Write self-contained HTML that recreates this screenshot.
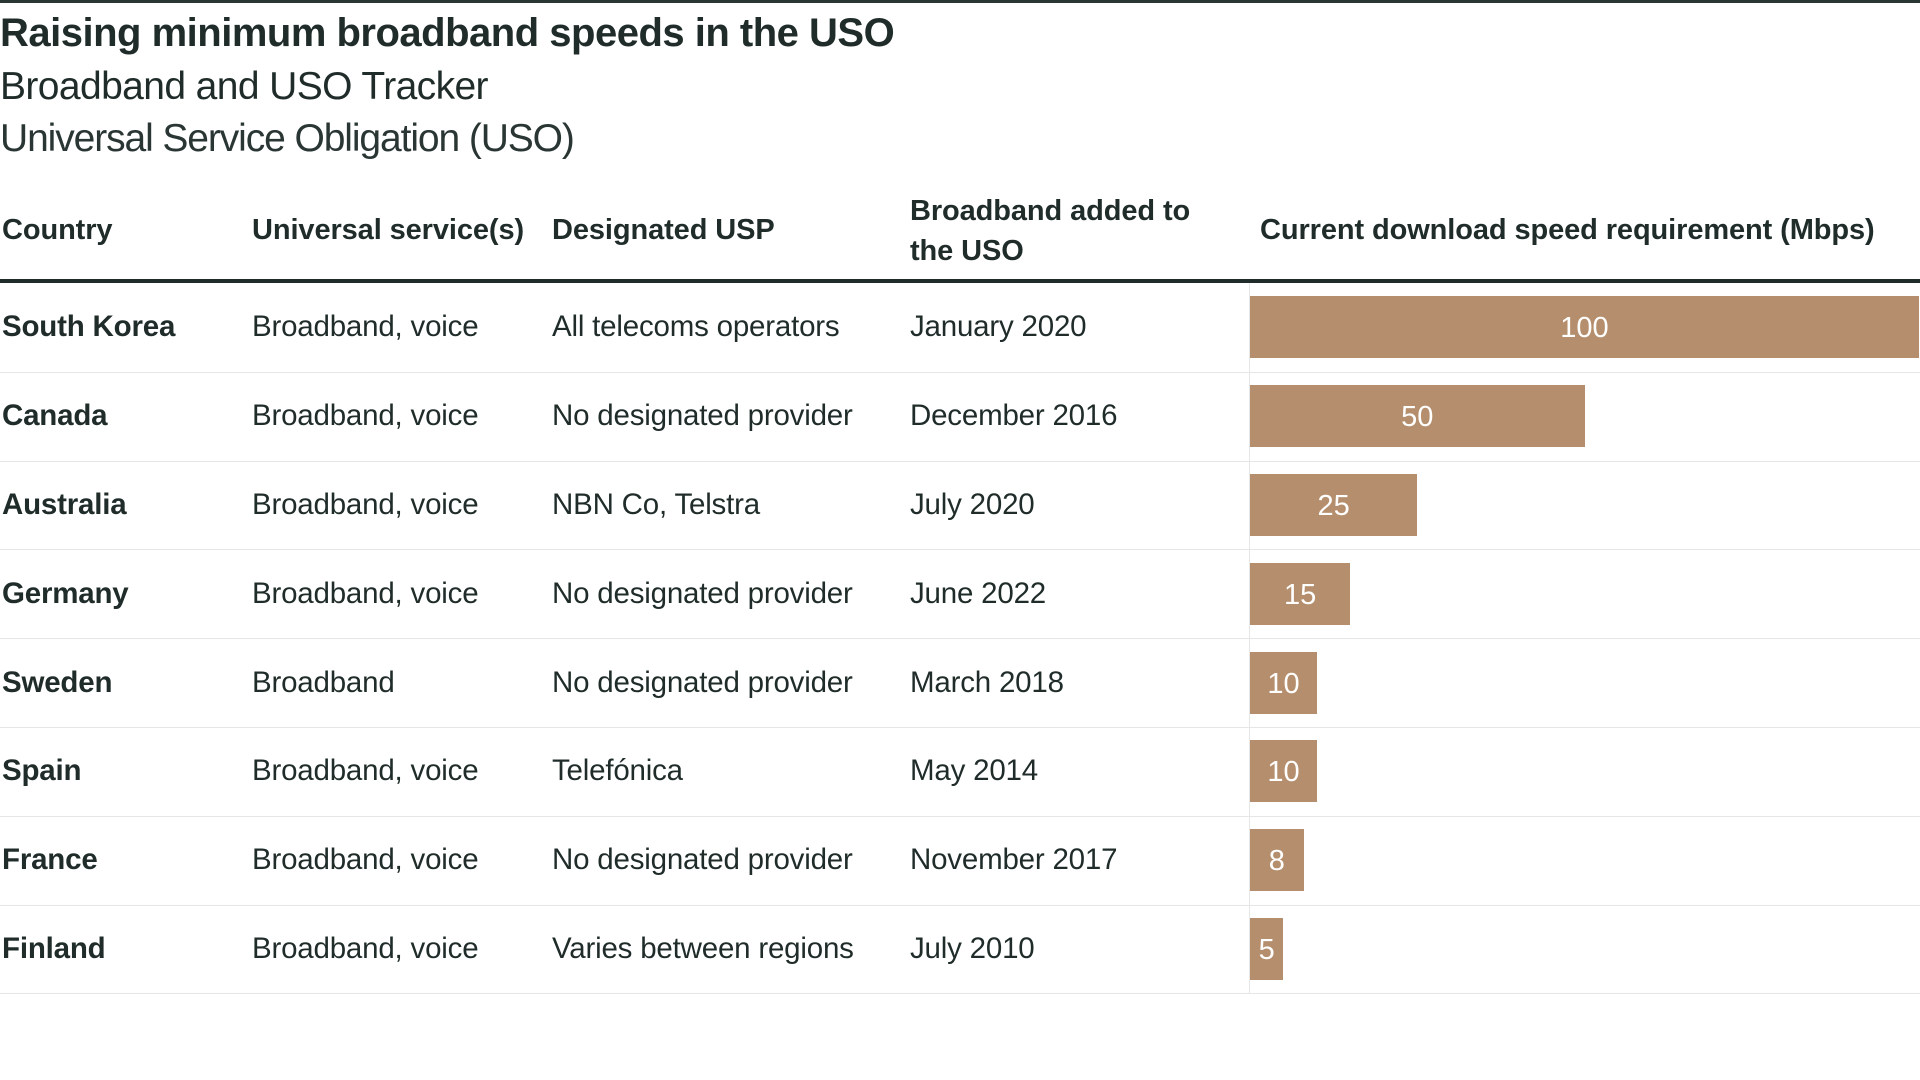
<!DOCTYPE html>
<html><head><meta charset="utf-8">
<style>
body{margin:0;width:1920px;height:1080px;background:#fff;position:relative;overflow:hidden;font-family:"Liberation Sans",sans-serif;color:#1f2c29}
.a{position:absolute;white-space:nowrap}
#topline{left:0;top:0;width:1920px;height:3px;background:#2a3633}
#title{left:0;top:11px;font-size:40px;font-weight:bold;letter-spacing:-0.5px}
#sub1{left:0;top:65px;font-size:39px;letter-spacing:-0.6px}
#sub2{left:0;top:117px;font-size:39px;letter-spacing:-1.1px;color:#2a3633}
.h{font-size:29px;font-weight:bold;letter-spacing:-0.1px}
.c{font-size:29.5px;letter-spacing:-0.2px}
.b{font-weight:bold}
.sep{position:absolute;left:0;width:1920px;height:1px;background:#e6e6e6}
.bar{position:absolute;background:#b58f6d;color:#fff;font-size:29px;text-align:center}
</style></head><body>
<div id="topline" class="a"></div>
<div id="title" class="a">Raising minimum broadband speeds in the USO</div>
<div id="sub1" class="a">Broadband and USO Tracker</div>
<div id="sub2" class="a">Universal Service Obligation (USO)</div>
<div class="a h" style="left:2px;top:214px">Country</div>
<div class="a h" style="left:252px;top:214px">Universal service(s)</div>
<div class="a h" style="left:552px;top:214px">Designated USP</div>
<div class="a h" style="left:910px;top:191px;line-height:40px">Broadband added to<br>the USO</div>
<div class="a h" style="left:1260px;top:214px">Current download speed requirement (Mbps)</div>
<div class="a" style="left:0;top:279px;width:1920px;height:4px;background:#1f2c29"></div>
<div class="a" style="left:1249px;top:283px;width:1px;height:711px;background:#e6e6e6"></div>
<div id="rows"></div>
<script>
const countries=["South Korea","Canada","Australia","Germany","Sweden","Spain","France","Finland"];
const services=["Broadband, voice","Broadband, voice","Broadband, voice","Broadband, voice","Broadband","Broadband, voice","Broadband, voice","Broadband, voice"];
const providers=["All telecoms operators","No designated provider","NBN Co, Telstra","No designated provider","No designated provider","Telefónica","No designated provider","Varies between regions"];
const dates=["January 2020","December 2016","July 2020","June 2022","March 2018","May 2014","November 2017","July 2010"];
const speeds=[100,50,25,15,10,10,8,5];
const x0=1250,xMax=1919,maxV=100;
function xs(v){return x0+(xMax-x0)*v/maxV;}
const rowTop=283,rowH=88.8;
const root=document.getElementById('rows');
function txt(s,x,cy,cls){const d=document.createElement('div');d.className='a c '+cls;d.textContent=s;d.style.left=x+'px';d.style.top=(cy-17)+'px';root.appendChild(d);return d;}
countries.forEach((c,i)=>{
 const cy=rowTop+rowH*i+rowH/2;
 let e=txt(c,2,cy,'b');
 
 
 e=txt(services[i],252,cy,'');
 
 
 e=txt(providers[i],552,cy,'');
 
 
 e=txt(dates[i],910,cy,'');
 
 
 const b=document.createElement('div');b.className='bar';
 b.style.left=x0+'px';b.style.width=(xs(speeds[i])-x0)+'px';
 b.style.top=(cy-31)+'px';b.style.height='62px';b.style.lineHeight='64px';
 b.textContent=speeds[i];
 
 
 root.appendChild(b);
 const s=document.createElement('div');s.className='sep';s.style.top=(rowTop+rowH*(i+1))+'px';
 
 
 root.appendChild(s);
});
</script>
</body></html>
